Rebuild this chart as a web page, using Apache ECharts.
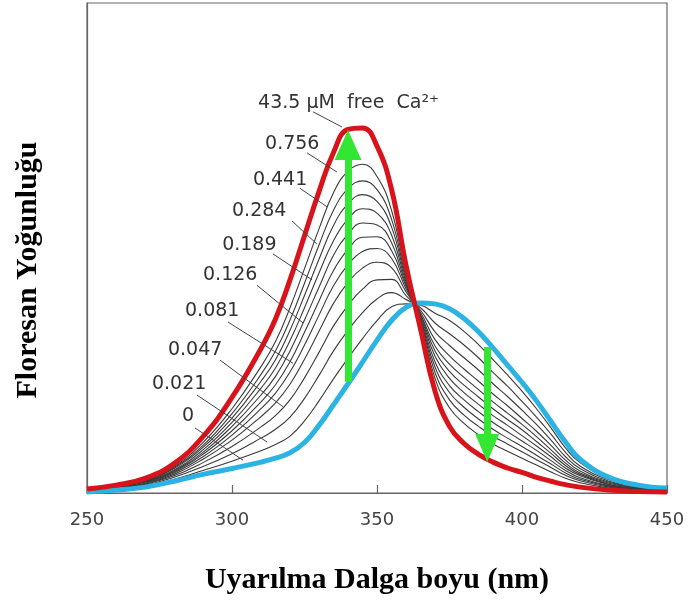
<!DOCTYPE html>
<html>
<head>
<meta charset="utf-8">
<script src="https://cdn.jsdelivr.net/npm/echarts@6/dist/echarts.min.js"></script>
<style>
  html, body { margin: 0; padding: 0; background: #fff; }
  #chart { width: 690px; height: 603px; }
</style>
</head>
<body>
<div id="chart"></div>
<script>
// Excitation wavelengths (nm) shared by every spectrum
const wavelengths = [250, 260, 270, 280, 290, 300, 310, 315, 320, 325, 330, 335, 340, 345, 350,
  355, 360, 365, 370, 375, 380, 385, 390, 395, 400, 405, 410, 415, 420, 430, 440, 450];

// Saturating calcium (43.5 µM free Ca2+)
const spectrumSaturated = [0.8, 1.6, 3.0, 6.0, 11.5, 19.5, 29.5, 35.5, 43.5, 52.5, 61.5, 69.5, 74.2, 74.5, 70.8,
  62.0, 46.5, 33.5, 20.8, 13.6, 10.1, 7.9, 6.3, 5.1, 4.2, 3.2, 2.4, 1.7, 1.2, 0.6, 0.3, 0.2];

// Calcium-free spectrum
const spectrumFree = [0.2, 0.6, 1.2, 2.4, 3.8, 5.0, 6.3, 7.1, 8.2, 10.3, 13.8, 18.0, 22.3, 26.7, 31.2,
  35.2, 37.9, 38.8, 38.6, 37.6, 35.6, 32.9, 29.6, 26.1, 22.6, 18.8, 14.6, 10.4, 6.9, 3.2, 1.6, 1.0];

// Intermediate calcium levels, highest first
const spectrumA = [0.7, 1.4, 2.7, 5.4, 10.3, 17.2, 25.8, 30.9, 37.8, 45.8, 53.9, 61.3, 65.7, 67.1, 64.6,
  57.7, 44.7, 34.8, 23.4, 17.4, 14.2, 11.9, 10.0, 8.5, 7.1, 5.7, 4.3, 3.0, 2.1, 1.0, 0.5, 0.3];
const spectrumB = [0.7, 1.4, 2.6, 5.2, 9.7, 16.2, 24.2, 29.0, 35.3, 42.8, 50.6, 57.7, 62.1, 63.7, 61.9,
  55.9, 44.1, 35.1, 24.6, 19.0, 15.9, 13.6, 11.6, 10.0, 8.4, 6.8, 5.2, 3.6, 2.5, 1.2, 0.6, 0.4];
const spectrumC = [0.6, 1.3, 2.5, 5.0, 9.3, 15.3, 22.8, 27.2, 33.2, 40.3, 47.7, 54.6, 59.0, 60.9, 59.5,
  54.3, 43.6, 35.4, 25.7, 20.5, 17.5, 15.1, 13.0, 11.2, 9.5, 7.7, 5.9, 4.1, 2.8, 1.4, 0.7, 0.4];
const spectrumD = [0.6, 1.3, 2.4, 4.7, 8.8, 14.4, 21.4, 25.5, 31.1, 37.8, 44.9, 51.5, 55.9, 58.0, 57.1,
  52.7, 43.1, 35.7, 26.8, 21.9, 19.0, 16.6, 14.4, 12.5, 10.6, 8.7, 6.6, 4.6, 3.1, 1.5, 0.8, 0.5];
const spectrumE = [0.6, 1.2, 2.3, 4.5, 8.3, 13.6, 20.0, 23.8, 29.0, 35.3, 42.0, 48.5, 52.8, 55.1, 54.7,
  51.1, 42.6, 36.0, 27.9, 23.4, 20.5, 18.1, 15.8, 13.8, 11.7, 9.6, 7.4, 5.1, 3.5, 1.7, 0.8, 0.5];
const spectrumF = [0.5, 1.1, 2.2, 4.3, 7.9, 12.7, 18.6, 22.1, 26.8, 32.8, 39.2, 45.4, 49.7, 52.2, 52.3,
  49.5, 42.2, 36.3, 29.0, 24.8, 22.0, 19.6, 17.2, 15.0, 12.9, 10.5, 8.1, 5.6, 3.8, 1.8, 0.9, 0.6];
const spectrumG = [0.5, 1.1, 2.0, 4.1, 7.4, 11.8, 17.2, 20.4, 24.7, 30.2, 36.3, 42.3, 46.6, 49.3, 49.9,
  47.9, 41.7, 36.5, 30.0, 26.3, 23.6, 21.1, 18.6, 16.3, 14.0, 11.5, 8.8, 6.1, 4.1, 2.0, 1.0, 0.6];
const spectrumH = [0.4, 1.0, 1.9, 3.8, 6.9, 10.8, 15.6, 18.4, 22.2, 27.3, 33.0, 38.7, 43.0, 45.9, 47.1,
  46.0, 41.1, 36.9, 31.3, 28.0, 25.3, 22.8, 20.2, 17.8, 15.2, 12.6, 9.7, 6.7, 4.5, 2.2, 1.1, 0.7];
const spectrumI = [0.4, 0.9, 1.8, 3.5, 6.2, 9.5, 13.5, 15.8, 19.0, 23.5, 28.7, 34.1, 38.3, 41.6, 43.5,
  43.6, 40.3, 37.3, 32.9, 30.1, 27.6, 25.1, 22.3, 19.7, 16.9, 14.0, 10.8, 7.4, 5.0, 2.4, 1.2, 0.8];
const spectrumJ = [0.3, 0.8, 1.6, 3.2, 5.4, 8.0, 11.2, 13.0, 15.5, 19.3, 24.0, 29.0, 33.2, 36.8, 39.6,
  40.9, 39.5, 37.8, 34.7, 32.5, 30.2, 27.6, 24.6, 21.8, 18.7, 15.5, 12.0, 8.3, 5.5, 2.7, 1.3, 0.8];
const spectrumK = [0.3, 0.7, 1.4, 2.8, 4.6, 6.5, 8.6, 9.9, 11.6, 14.7, 18.8, 23.3, 27.5, 31.5, 35.2,
  38.0, 38.6, 38.3, 36.7, 35.2, 33.0, 30.3, 27.2, 24.1, 20.8, 17.2, 13.3, 9.2, 6.2, 2.9, 1.5, 0.9];

const intermediateSpectra = [spectrumA, spectrumB, spectrumC, spectrumD, spectrumE, spectrumF,
  spectrumG, spectrumH, spectrumI, spectrumJ, spectrumK];

// X-axis tick values (nm)
const xTicks = [250, 300, 350, 400, 450];

// Concentration labels (µM free Ca2+)
const concLabels = ['43.5 \u03bcM  free  Ca\u00b2\u207a', '0.756', '0.441', '0.284', '0.189',
  '0.126', '0.081', '0.047', '0.021', '0'];

// Label placement in data units: [textX, textY, leaderX1, leaderY1, leaderX2, leaderY2]
const labelLayout = [
  [309.0, 79.6, 327.9, 77.8, 337.9, 74.7],
  [311.4, 71.2, 325.9, 69.4, 336.2, 65.5],
  [307.2, 63.9, 323.4, 62.2, 332.8, 58.4],
  [300.0, 57.6, 320.7, 55.5, 329.3, 50.8],
  [296.6, 50.6, 314.1, 48.8, 327.6, 43.5],
  [290.0, 44.5, 308.6, 42.4, 324.5, 34.7],
  [283.8, 37.1, 298.6, 34.9, 321.0, 26.5],
  [277.9, 29.2, 295.9, 27.1, 317.6, 17.6],
  [272.4, 22.2, 287.9, 20.0, 312.1, 10.4],
  [282.8, 15.7, 287.2, 13.3, 303.8, 6.7]
];

// Direction arrows: rise of the 340 nm band, fall near 388 nm
const arrowRise = [[340, 22.7], [340, 71.0]];
const arrowFall = [[388, 29.8], [388, 9.2]];

const pairs = arr => wavelengths.map((x, i) => [x, arr[i]]);

const series = [];
intermediateSpectra.forEach((arr, k) => {
  series.push({
    type: 'line', name: 'mid' + k, data: pairs(arr), showSymbol: false, symbol: 'none',
    smooth: 0.45, lineStyle: { color: '#3a3a3a', width: 1.1 }, z: 2, silent: true
  });
});
series.push({
  type: 'line', name: 'free', data: pairs(spectrumFree), showSymbol: false, symbol: 'none',
  smooth: 0.45, lineStyle: { color: '#2bb3e3', width: 5 }, z: 3, silent: true
});
series.push({
  type: 'line', name: 'saturated', data: pairs(spectrumSaturated), showSymbol: false, symbol: 'none',
  smooth: 0.45, lineStyle: { color: '#d8141a', width: 5 }, z: 4, silent: true,
  markLine: {
    silent: true, animation: false, z: 10,
    symbol: ['none', 'triangle'], symbolSize: [27, 30],
    lineStyle: { color: '#33e633', width: 7, type: 'solid', opacity: 1 },
    label: { show: false },
    emphasis: { disabled: true },
    data: [
      [{ coord: arrowRise[0] }, { coord: arrowRise[1] }],
      [{ coord: arrowFall[0] }, { coord: arrowFall[1], symbolSize: [24, 28] }]
    ]
  }
});
series.push({
  type: 'custom', name: 'labels', silent: true, z: 5,
  data: labelLayout,
  renderItem: function (params, api) {
    const a = labelLayout[params.dataIndex];
    const t = api.coord([a[0], a[1]]);
    const p1 = api.coord([a[2], a[3]]);
    const p2 = api.coord([a[4], a[5]]);
    return {
      type: 'group',
      children: [
        { type: 'line', shape: { x1: p1[0], y1: p1[1], x2: p2[0], y2: p2[1] },
          style: { stroke: '#444', lineWidth: 1 } },
        { type: 'text', x: t[0], y: t[1],
          style: { text: concLabels[params.dataIndex], fontSize: 19, fontFamily: 'DejaVu Sans',
                   fill: '#333', align: 'left', verticalAlign: 'middle' } }
      ]
    };
  }
});

const chart = echarts.init(document.getElementById('chart'), null, { renderer: 'canvas' });
chart.setOption({
  animation: false,
  backgroundColor: '#ffffff',
  grid: { left: 87, right: 23, top: 3, bottom: 110, show: true, borderColor: '#666', borderWidth: 1.2 },
  xAxis: {
    type: 'value', min: xTicks[0], max: xTicks[xTicks.length - 1], interval: 50,
    name: 'Uyarılma Dalga boyu (nm)', nameLocation: 'middle', nameGap: 72,
    nameTextStyle: { fontFamily: 'Liberation Serif', fontWeight: 'bold', fontSize: 30, color: '#000' },
    axisLine: { show: true, lineStyle: { color: '#666', width: 1.2 } },
    axisTick: { show: true, inside: true, length: 8, lineStyle: { color: '#666', width: 1.2 } },
    axisLabel: { show: true, fontFamily: 'DejaVu Sans', fontSize: 18, color: '#444', margin: 18,
                 showMinLabel: true, showMaxLabel: true },
    splitLine: { show: false }
  },
  yAxis: {
    type: 'value', min: 0, max: 100,
    name: 'Floresan Yoğunluğu', nameLocation: 'middle', nameGap: 44, nameRotate: 90,
    nameTextStyle: { fontFamily: 'Liberation Serif', fontWeight: 'bold', fontSize: 30, color: '#000',
                     padding: [0, 44, 0, 0] },
    axisLine: { show: true, lineStyle: { color: '#666', width: 1.2 } },
    axisTick: { show: false }, axisLabel: { show: false }, splitLine: { show: false }
  },
  series: series
});
</script>
</body>
</html>
